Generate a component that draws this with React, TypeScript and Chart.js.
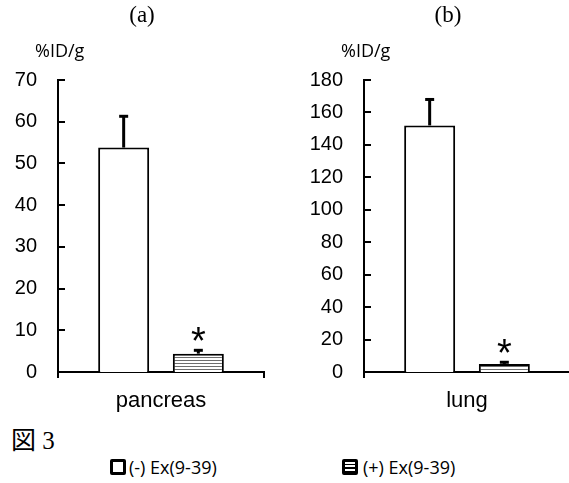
import React, { useEffect, useRef } from "react";
import { Chart, registerables } from "chart.js";

Chart.register(...registerables);

// ---- data ----
const categoriesA = ["pancreas"];
const minusA = [53.8];
const plusA = [4.4];
const minusErrA = [7.5];
const plusErrA = [0.8];
const yTicksA = [0, 10, 20, 30, 40, 50, 60, 70];

const categoriesB = ["lung"];
const minusB = [152];
const plusB = [5];
const minusErrB = [16];
const plusErrB = [1];
const yTicksB = [0, 20, 40, 60, 80, 100, 120, 140, 160, 180];

const seriesNames = ["(-) Ex(9-39)", "(+) Ex(9-39)"];
const panelTitles = ["(a)", "(b)"];
const yUnit = "%ID/g";
const figureLabel = "図 3";

function makeHatch(): CanvasPattern | string {
  const c = document.createElement("canvas");
  c.width = 4;
  c.height = 3;
  const g = c.getContext("2d");
  if (!g) return "#fff";
  g.fillStyle = "#ffffff";
  g.fillRect(0, 0, 4, 3);
  g.fillStyle = "#6e6e6e";
  g.fillRect(0, 0, 4, 1);
  const ctx = document.createElement("canvas").getContext("2d");
  const p = ctx ? ctx.createPattern(c, "repeat") : null;
  return p || "#fff";
}

const overlayPlugin = {
  id: "overlay",
  afterDatasetsDraw(chart: any, _args: any, opts: any) {
    const ctx = chart.ctx as CanvasRenderingContext2D;
    const y = chart.scales.y;
    const area = chart.chartArea;
    ctx.save();
    // inward tick marks
    ctx.strokeStyle = "#000";
    ctx.lineWidth = 2;
    y.ticks.forEach((t: any) => {
      const py = Math.round(y.getPixelForValue(t.value));
      ctx.beginPath();
      ctx.moveTo(area.left, py);
      ctx.lineTo(area.left + 7, py);
      ctx.stroke();
    });
    // error bars & stars
    chart.data.datasets.forEach((ds: any, di: number) => {
      const meta = chart.getDatasetMeta(di);
      const errs = opts.errors[di] as number[];
      meta.data.forEach((bar: any, i: number) => {
        const v = ds.data[i] as number;
        const e = errs[i];
        const pTop = y.getPixelForValue(v + e);
        const pBar = y.getPixelForValue(v);
        ctx.strokeStyle = "#000";
        ctx.lineWidth = 3;
        ctx.beginPath();
        ctx.moveTo(bar.x, pBar);
        ctx.lineTo(bar.x, pTop);
        ctx.stroke();
        ctx.beginPath();
        ctx.moveTo(bar.x - 4.5, pTop);
        ctx.lineTo(bar.x + 4.5, pTop);
        ctx.stroke();
        if (opts.stars[di]) {
          ctx.font = "38px 'Liberation Sans'";
          ctx.fillStyle = "#000";
          ctx.textAlign = "center";
          ctx.textBaseline = "alphabetic";
          const m = ctx.measureText("*");
          const center = pTop - 16;
          const base =
            center + (m.actualBoundingBoxAscent - m.actualBoundingBoxDescent) / 2;
          ctx.fillText("*", bar.x, base);
        }
      });
    });
    ctx.restore();
  },
};

function makeConfig(
  cats: string[],
  a: number[],
  b: number[],
  errA: number[],
  errB: number[],
  ticks: number[],
  yWidth: number,
  padRight: number
): any {
  const step = ticks[1] - ticks[0];
  return {
    type: "bar",
    data: {
      labels: cats,
      datasets: [
        {
          label: seriesNames[0],
          data: a,
          backgroundColor: "#ffffff",
          borderColor: "#000",
          borderWidth: 2,
          categoryPercentage: 0.725,
          barPercentage: 0.683,
        },
        {
          label: seriesNames[1],
          data: b,
          backgroundColor: makeHatch(),
          borderColor: "#000",
          borderWidth: 2,
          categoryPercentage: 0.725,
          barPercentage: 0.683,
        },
      ],
    },
    options: {
      responsive: false,
      animation: false,
      devicePixelRatio: 1,
      layout: { padding: { top: 80, left: 0, right: padRight, bottom: 0 } },
      plugins: {
        legend: { display: false },
        tooltip: { enabled: false },
        title: { display: false },
        overlay: { errors: [errA, errB], stars: [false, true] },
      },
      scales: {
        x: {
          offset: true,
          grid: {
            display: true,
            offset: true,
            drawOnChartArea: false,
            drawTicks: true,
            tickLength: 6,
            color: "#000",
            lineWidth: 2,
          },
          border: { display: true, color: "#000", width: 2 },
          ticks: {
            color: "#000",
            padding: 10,
            font: { family: "'Liberation Sans', Arial", size: 22 },
          },
          afterFit: (s: any) => {
            s.height = 48;
          },
        },
        y: {
          min: ticks[0],
          max: ticks[ticks.length - 1],
          grid: { display: false, drawTicks: false },
          border: { display: true, color: "#000", width: 2 },
          ticks: {
            stepSize: step,
            color: "#000",
            padding: 21,
            font: { family: "'Liberation Sans', Arial", size: 20 },
          },
          afterFit: (s: any) => {
            s.width = yWidth;
          },
        },
      },
    },
    plugins: [overlayPlugin],
  };
}

export default function App() {
  const refA = useRef<HTMLCanvasElement>(null);
  const refB = useRef<HTMLCanvasElement>(null);

  useEffect(() => {
    document.body.style.margin = "0";
    const ca = new Chart(
      refA.current as HTMLCanvasElement,
      makeConfig(categoriesA, minusA, plusA, minusErrA, plusErrA, yTicksA, 58, 26)
    );
    const cb = new Chart(
      refB.current as HTMLCanvasElement,
      makeConfig(categoriesB, minusB, plusB, minusErrB, plusErrB, yTicksB, 74, 0)
    );
    return () => {
      ca.destroy();
      cb.destroy();
    };
  }, []);

  const serif = "'Liberation Serif', 'Times New Roman', serif";
  const sans = "'Open Sans', sans-serif";

  return (
    <div
      style={{
        position: "fixed",
        left: 0,
        top: 0,
        width: 569,
        height: 483,
        overflow: "hidden",
        background: "#fff",
      }}
    >
      <canvas
        ref={refA}
        width={290}
        height={420}
        style={{ position: "absolute", left: 0, top: 0 }}
      />
      <canvas
        ref={refB}
        width={280}
        height={420}
        style={{ position: "absolute", left: 290, top: 0 }}
      />
      <div
        style={{
          position: "absolute",
          left: 92,
          width: 100,
          top: 3,
          lineHeight: "24px",
          textAlign: "center",
          fontFamily: serif,
          fontSize: 23,
          color: "#000",
        }}
      >
        {panelTitles[0]}
      </div>
      <div
        style={{
          position: "absolute",
          left: 398,
          width: 100,
          top: 3,
          lineHeight: "24px",
          textAlign: "center",
          fontFamily: serif,
          fontSize: 23,
          color: "#000",
        }}
      >
        {panelTitles[1]}
      </div>
      <div
        style={{
          position: "absolute",
          left: 35,
          top: 38,
          lineHeight: "24px",
          fontFamily: sans,
          fontSize: 18,
          color: "#000",
        }}
      >
        {yUnit}
      </div>
      <div
        style={{
          position: "absolute",
          left: 341,
          top: 38,
          lineHeight: "24px",
          fontFamily: sans,
          fontSize: 18,
          color: "#000",
        }}
      >
        {yUnit}
      </div>
      <div
        style={{
          position: "absolute",
          left: 11,
          top: 427,
          lineHeight: "28px",
          fontFamily: "'Liberation Serif', 'Noto Sans CJK JP', serif",
          fontSize: 25,
          color: "#000",
          whiteSpace: "pre",
        }}
      >
        {figureLabel}
      </div>
      <div
        style={{
          position: "absolute",
          left: 110,
          top: 455,
          height: 24,
          display: "flex",
          alignItems: "center",
          fontFamily: sans,
          fontSize: 18,
          color: "#000",
        }}
      >
        <span
          style={{
            display: "inline-block",
            width: 10,
            height: 10,
            border: "3px solid #000",
            borderRadius: 2,
            background: "#fff",
            marginRight: 3,
          }}
        />
        <span>{seriesNames[0]}</span>
      </div>
      <div
        style={{
          position: "absolute",
          left: 342,
          top: 455,
          height: 24,
          display: "flex",
          alignItems: "center",
          fontFamily: sans,
          fontSize: 18,
          color: "#000",
        }}
      >
        <span
          style={{
            display: "inline-block",
            width: 10,
            height: 10,
            border: "3px solid #000",
            borderRadius: 2,
            background:
              "repeating-linear-gradient(to bottom, #fff 0px, #fff 2px, #000 2px, #000 3.5px)",
            marginRight: 5,
          }}
        />
        <span>{seriesNames[1]}</span>
      </div>
    </div>
  );
}
